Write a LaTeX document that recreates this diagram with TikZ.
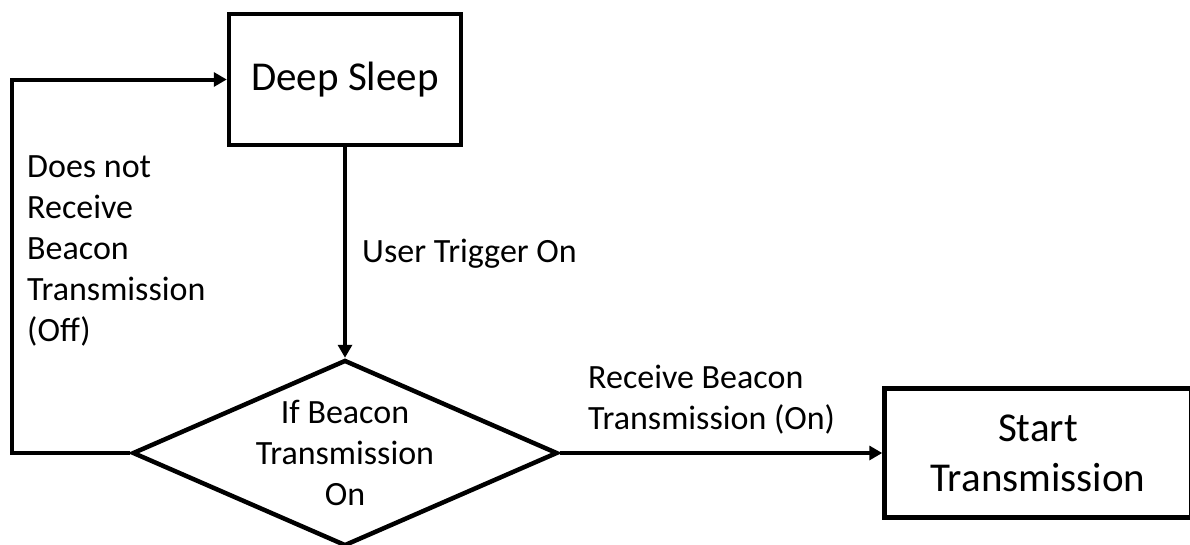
\documentclass[tikz,border=0pt]{standalone}
\usepackage{fontspec}
\setmainfont{Carlito}
\usetikzlibrary{arrows.meta,shapes.geometric}
\begin{document}
\begin{tikzpicture}[x=1pt,y=-1pt,
  statebox/.style={draw=black, line width=4.5pt, inner sep=0pt, align=center,
    font=\fontsize{41}{50}\selectfont},
  decision/.style={draw=black, line width=4.5pt, diamond, inner sep=0pt,
    minimum width=425pt, minimum height=186pt},
  dtext/.style={inner sep=0pt, align=center, font=\fontsize{34}{41}\selectfont},
  lbl/.style={inner sep=0pt, align=left, anchor=west, font=\fontsize{34}{41}\selectfont},
  conn/.style={line width=4pt, -{Triangle[length=13pt,width=14pt]}}]
\useasboundingbox (0,0) rectangle (1190,544);
\node[statebox, minimum width=232pt, minimum height=131pt] (ds) at (345,79.5) {Deep Sleep};
\node[decision] (d) at (345,453) {};
\node[dtext] (dt) at (d.center) {If Beacon\\Transmission\\On};
\node[statebox, minimum width=307pt, minimum height=129pt] (st) at (1038,453) {Start\\Transmission};
\coordinate (c) at (12,79.5);
\draw[conn] (ds.south) -- (d.north);
\draw[conn] (d.east) -- (st.west);
\draw[conn] (d.west) -| (c) -- (ds.west);
\node[lbl] (l1) at (27,251) {Does not\\Receive\\Beacon\\Transmission\\(Off)};
\node[lbl] (l2) at (362,254) {User Trigger On};
\node[lbl] (l3) at (588,400) {Receive Beacon\\Transmission (On)};
\end{tikzpicture}
\end{document}
